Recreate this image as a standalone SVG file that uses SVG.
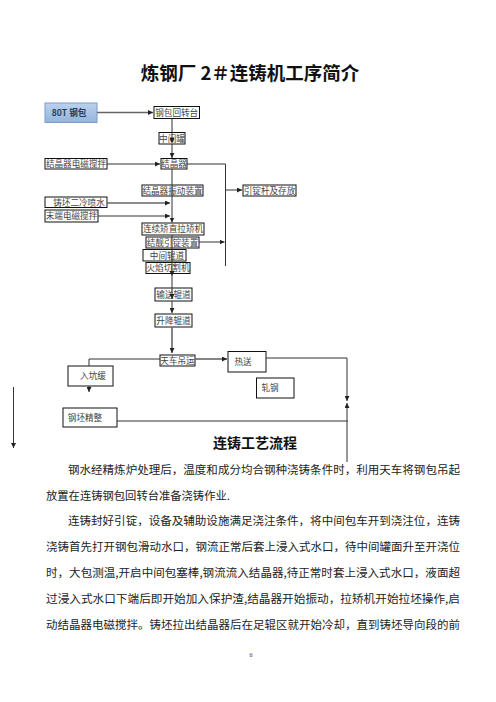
<svg xmlns="http://www.w3.org/2000/svg" width="496" height="702" viewBox="0 0 496 702">
<defs>
<linearGradient id="blue" x1="0" y1="0" x2="0" y2="1">
<stop offset="0" stop-color="#bcd2ee"/>
<stop offset="1" stop-color="#94b4dd"/>
</linearGradient>
<marker id="ah" viewBox="0 0 10 10" refX="10" refY="5" markerWidth="5" markerHeight="5" orient="auto" markerUnits="userSpaceOnUse">
<path d="M0,0 L10,5 L0,10 z" fill="#222"/>
</marker>
</defs>
<style>
.bx{fill:#fff;stroke:#111;stroke-width:1}
.bt{font-family:"Noto Sans CJK SC","Liberation Serif",serif;font-size:8.6px;fill:#444;text-anchor:middle}
.ln{fill:none;stroke:#333;stroke-width:1}
.lg{fill:none;stroke:#666;stroke-width:1.6}
.ar{marker-end:url(#ah)}
.p{font-family:"Noto Sans CJK SC","Liberation Serif",serif;font-size:11.3px;fill:#222}
</style>
<rect width="496" height="702" fill="#fff"/>
<text x="250" y="80" font-family="Noto Sans CJK SC, Liberation Sans, sans-serif" font-size="18.5" font-weight="bold" text-anchor="middle" fill="#111">炼钢厂 2＃连铸机工序简介</text>

<g id="n-80t"><rect x="45" y="103" width="52" height="19.5" fill="url(#blue)" stroke="#7d9dc9" stroke-width="1"/><text x="69" y="116" font-family="Noto Sans CJK SC, Liberation Serif, serif" font-size="8.6" font-weight="bold" fill="#2a3a55" text-anchor="middle">80T 钢包</text></g>
<g id="n-zhuantai"><rect class="bx" x="154" y="106.5" width="45.5" height="12"/><text class="bt" x="176.7" y="115.8">钢包回转台</text></g>
<g id="n-zhongjianguan"><rect class="bx" x="159" y="132.5" width="26" height="11.5"/><text class="bt" x="172" y="141.6">中间罐</text></g>
<g id="n-jiejingqi"><rect class="bx" x="161" y="158.5" width="26" height="10.5"/><text class="bt" x="174" y="167">结晶器</text></g>
<g id="n-diancijiaoban"><rect class="bx" x="45" y="158.5" width="62" height="10.5"/><text class="bt" x="76" y="167">结晶器电磁搅拌</text></g>
<g id="n-zhendong"><rect class="bx" x="142" y="185" width="61" height="11"/><text class="bt" x="172.5" y="193.8">结晶器振动装置</text></g>
<g id="n-yindinggan"><rect class="bx" x="243" y="185" width="53" height="11"/><text class="bt" x="269.5" y="193.8">引锭杆及存放</text></g>
<g id="n-erleng"><rect class="bx" x="45" y="197" width="62" height="10.5"/><text class="bt" x="79" y="205.6">铸坯二冷喷水</text></g>
<g id="n-moduan"><rect class="bx" x="45" y="210" width="53" height="12"/><text class="bt" x="71.5" y="219.2">末端电磁搅拌</text></g>
<g id="n-lajiao"><rect class="bx" x="142" y="223" width="62" height="12"/><text class="bt" x="173" y="232.2">连续矫直拉矫机</text></g>
<g id="n-tuoyinding"><rect class="bx" x="146" y="237" width="53" height="11"/><text class="bt" x="172.5" y="245.8">结靓引锭装置</text></g>
<g id="n-zhongjiangundao"><rect class="bx" x="143" y="249.5" width="43" height="11.5"/><text class="bt" x="167" y="258.5">中间辊道</text></g>
<g id="n-qiege"><rect class="bx" x="146" y="262.5" width="44" height="11"/><text class="bt" x="168" y="271.3">火焰切割机</text></g>
<g id="n-shusong"><rect class="bx" x="155" y="288" width="37" height="13"/><text class="bt" x="173.5" y="297.6">输送辊道</text></g>
<g id="n-shengjiang"><rect class="bx" x="155" y="314" width="37" height="13"/><text class="bt" x="173.5" y="323.6">升降辊道</text></g>
<g id="n-tianche"><rect class="bx" x="160" y="355" width="35" height="11"/><text class="bt" x="177.5" y="363.6">天车吊运</text></g>
<g id="n-resong"><rect class="bx" x="228" y="351.5" width="38" height="20.5"/><text class="bt" x="243" y="364.6">热送</text></g>
<g id="n-zhagang"><rect class="bx" x="256.5" y="378" width="37.5" height="20"/><text class="bt" x="270" y="391">轧钢</text></g>
<g id="n-rukeng"><rect class="bx" x="68" y="366" width="45" height="20"/><text class="bt" x="93" y="379">入坑缓</text></g>
<g id="n-jingzheng"><rect class="bx" x="63" y="408" width="54" height="19"/><text class="bt" x="85" y="420.6">钢坯精整</text></g>

<g id="connectors">
<path class="lg ar" d="M97,112.5 H153"/>
<path class="ln ar" d="M172,119 V143"/>
<path class="ln ar" d="M172,144 V158"/>
<path class="ln ar" d="M107,164 H160"/>
<path class="ln ar" d="M172,169 V222.5"/>
<path class="ln" d="M187,164 H225.5 V266"/>
<path class="ln ar" d="M225.5,190 H242"/>
<path class="lg ar" d="M107,203 H170"/>
<path class="ln ar" d="M98,216 H170"/>
<path class="ln ar" d="M199,242 H224.5"/>
<path class="ln ar" d="M172,235 V276"/>
<path class="ln ar" d="M172,276 V299"/>
<path class="ln ar" d="M172,301 V313"/>
<path class="lg ar" d="M172,327 V353"/>
<path class="lg ar" d="M195,359 H227"/>
<path class="ln ar" d="M266,358 H347 V401"/>
<path class="ln ar" d="M347,462 V403"/>
<path class="ln" d="M117,421 H348"/>
<path class="ln" d="M160,359 H89 V366"/>
<path class="ln ar" d="M89,386 V392"/>
<path class="ln ar" d="M13.5,387 V448"/>
</g>

<text x="255" y="448" font-family="Noto Sans CJK SC, Liberation Sans, sans-serif" font-size="14" font-weight="bold" text-anchor="middle" fill="#111">连铸工艺流程</text>

<text class="p" x="68" y="474" textLength="392" lengthAdjust="spacingAndGlyphs">钢水经精炼炉处理后，温度和成分均合钢种浇铸条件时，利用天车将钢包吊起</text>
<text class="p" x="46" y="500">放置在连铸钢包回转台准备浇铸作业.</text>
<text class="p" x="68" y="525" textLength="392" lengthAdjust="spacingAndGlyphs">连铸封好引锭，设备及辅助设施满足浇注条件，将中间包车开到浇注位，连铸</text>
<text class="p" x="46" y="551" textLength="414" lengthAdjust="spacingAndGlyphs">浇铸首先打开钢包滑动水口，钢流正常后套上浸入式水口，待中间罐面升至开浇位</text>
<text class="p" x="46" y="577" textLength="414" lengthAdjust="spacingAndGlyphs">时，大包测温,开启中间包塞棒,钢流流入结晶器,待正常时套上浸入式水口，液面超</text>
<text class="p" x="46" y="603" textLength="414" lengthAdjust="spacingAndGlyphs">过浸入式水口下端后即开始加入保护渣,结晶器开始振动，拉矫机开始拉坯操作,启</text>
<text class="p" x="46" y="629" textLength="414" lengthAdjust="spacingAndGlyphs">动结晶器电磁搅拌。铸坯拉出结晶器后在足辊区就开始冷却，直到铸坯导向段的前</text>
<text x="251" y="657" font-family="Liberation Serif, serif" font-size="6" fill="#333" text-anchor="middle">6</text>
</svg>
